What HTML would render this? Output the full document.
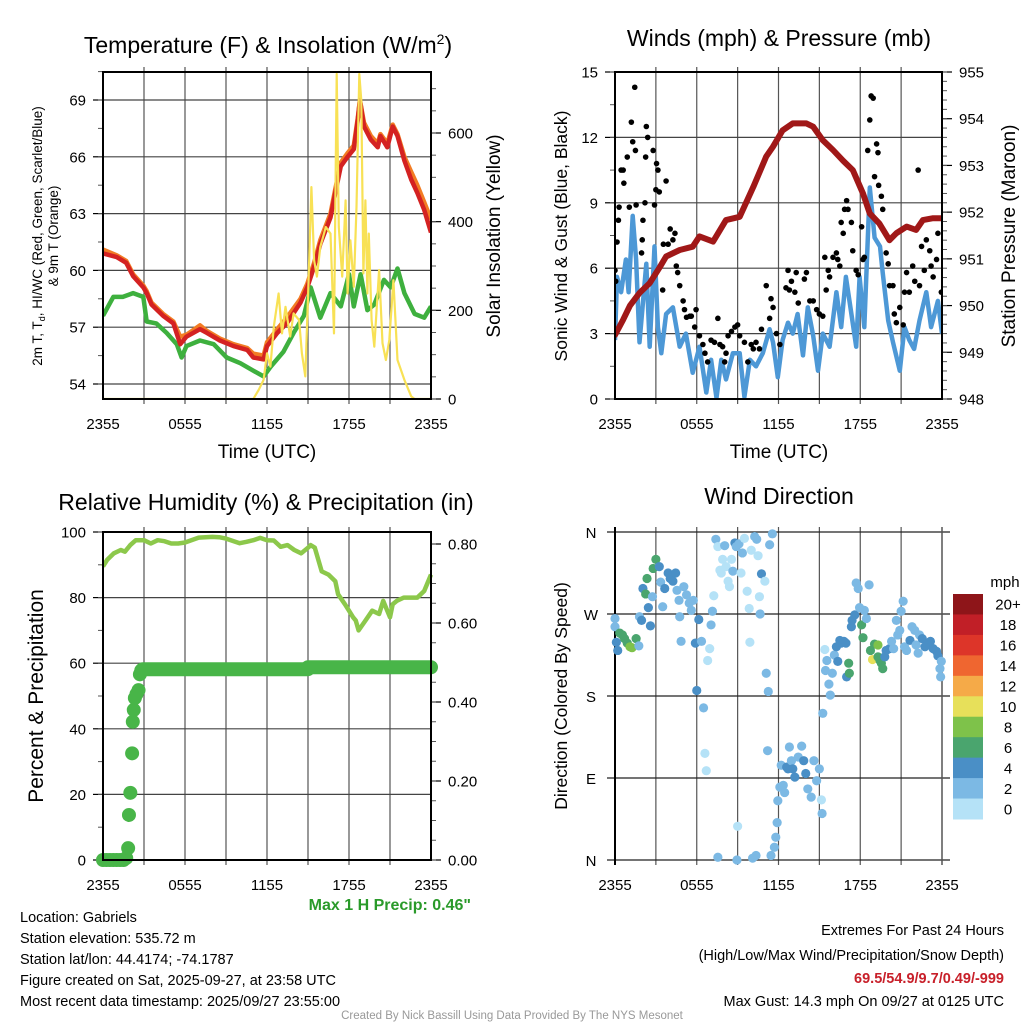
<!DOCTYPE html>
<html><head><meta charset="utf-8"><style>
html,body{margin:0;padding:0;background:#fff;}
svg{display:block;font-family:"Liberation Sans",sans-serif;}
</style></head><body>
<svg id="chart" width="1024" height="1024" viewBox="0 0 1024 1024" xmlns="http://www.w3.org/2000/svg">
<rect x="0" y="0" width="1024" height="1024" fill="#fff"/>
<text x="268" y="53" font-size="23" text-anchor="middle">Temperature (F) &amp; Insolation (W/m<tspan dy="-9" font-size="14">2</tspan><tspan dy="9">)</tspan></text>
<text x="779" y="46" font-size="23" text-anchor="middle">Winds (mph) &amp; Pressure (mb)</text>
<text x="266" y="510" font-size="23" text-anchor="middle">Relative Humidity (%) &amp; Precipitation (in)</text>
<text x="779" y="504" font-size="23" text-anchor="middle">Wind Direction</text>
<text transform="translate(42,236) rotate(-90)" font-size="13.5" text-anchor="middle">2m T, T<tspan dy="3" font-size="9">d</tspan><tspan dy="-3">, HI/WC (Red, Green, Scarlet/Blue)</tspan></text>
<text transform="translate(58,236) rotate(-90)" font-size="13.5" text-anchor="middle">&amp; 9m T (Orange)</text>
<text transform="translate(500,236) rotate(-90)" font-size="19" text-anchor="middle">Solar Insolation (Yellow)</text>
<text transform="translate(567,236) rotate(-90)" font-size="17.5" text-anchor="middle">Sonic Wind &amp; Gust (Blue, Black)</text>
<text transform="translate(1015,236) rotate(-90)" font-size="19" text-anchor="middle">Station Pressure (Maroon)</text>
<text transform="translate(43,696) rotate(-90)" font-size="21" text-anchor="middle">Percent &amp; Precipitation</text>
<text transform="translate(567,696) rotate(-90)" font-size="17.5" text-anchor="middle">Direction (Colored By Speed)</text>
<text x="267" y="458" font-size="19" text-anchor="middle">Time (UTC)</text>
<text x="779" y="458" font-size="19" text-anchor="middle">Time (UTC)</text>
<text x="471" y="910" font-size="16" font-weight="bold" fill="#2a9a2a" text-anchor="end">Max 1 H Precip: 0.46"</text>
<g font-size="14.5">
<text x="20" y="922">Location: Gabriels</text>
<text x="20" y="943">Station elevation: 535.72 m</text>
<text x="20" y="964">Station lat/lon: 44.4174; -74.1787</text>
<text x="20" y="985">Figure created on Sat, 2025-09-27, at 23:58 UTC</text>
<text x="20" y="1006">Most recent data timestamp: 2025/09/27 23:55:00</text>
</g>
<g font-size="14.5" text-anchor="end">
<text x="1004" y="935">Extremes For Past 24 Hours</text>
<text x="1004" y="960">(High/Low/Max Wind/Precipitation/Snow Depth)</text>
<text x="1004" y="983" fill="#c8202a" font-weight="bold">69.5/54.9/9.7/0.49/-999</text>
<text x="1004" y="1006">Max Gust: 14.3 mph On 09/27 at 0125 UTC</text>
</g>
<text x="512" y="1019" font-size="11.5" fill="#999" text-anchor="middle">Created By Nick Bassill Using Data Provided By The NYS Mesonet</text>
</svg>
<script>
// ---------- Data ----------
const timeTickLabels = ["2355","0555","1155","1755","2355"];
const tempTicks = [54,57,60,63,66,69];
const insolTicks = [0,200,400,600];
const windTicks = [0,3,6,9,12,15];
const presTicks = [948,949,950,951,952,953,954,955];
const rhTicks = [0,20,40,60,80,100];
const precipTicks = [0.00,0.20,0.40,0.60,0.80];
const dirTicks = [0,90,180,270,360];
const dirLabels = ["N","E","S","W","N"];

const tempHours = [0,1.0,1.7,2.2,2.95,3.2,3.55,4.4,5.15,5.65,6.1,7.1,7.6,8.55,9.55,10.55,11.0,11.75,12.0,12.75,13.45,14.45,14.95,15.45,15.9,16.65,17.0,17.4,17.9,18.35,18.65,18.8,19.1,19.6,20.1,20.3,20.8,21.2,21.55,22.05,22.55,23.0,23.5,24];
const tempRed = [60.9,60.7,60.4,59.7,59.1,58.8,58.2,57.6,57.2,56.1,56.5,56.9,56.7,56.3,56.0,55.8,55.4,55.3,56.0,56.7,57.2,58.3,59.1,60.2,61.4,62.8,64.1,65.5,66.0,66.4,68.0,69.0,67.6,66.9,66.5,67.1,66.5,67.6,67.1,65.8,64.8,64.1,63.2,62.0];
const tempOrange = [61.1,60.8,60.5,59.8,59.2,58.9,58.3,57.7,57.3,56.5,56.6,57.1,56.8,56.4,56.1,55.9,55.6,55.5,56.2,56.9,57.5,58.5,59.3,60.4,61.6,63.0,64.3,65.7,66.2,66.6,68.1,69.0,67.8,67.1,66.7,67.2,66.7,67.7,67.2,66.0,65.2,64.5,63.6,62.7];
const dewHours = [0,0.75,1.45,2.2,2.95,3.2,3.9,4.65,5.4,5.75,6.1,7.1,8.1,9.05,10.05,11.0,11.75,12.25,13.2,13.95,14.7,15.2,15.9,16.65,17.4,18.0,18.35,18.85,19.35,19.85,20.55,21.05,21.55,22.05,22.8,23.5,24];
const dewGreen = [57.6,58.6,58.6,58.8,58.6,57.3,57.2,56.7,56.1,55.4,56.0,56.3,56.1,55.4,55.1,54.7,54.4,54.9,55.7,56.7,57.6,59.1,57.5,58.8,58.1,59.8,58.1,59.8,57.9,58.2,59.5,59.1,60.1,58.8,57.7,57.5,58.1];
const solarHours = [0,11.0,11.4,11.75,12.0,12.25,12.5,12.85,13.1,13.35,13.7,13.95,14.35,14.55,14.8,15.05,15.25,15.45,15.65,15.9,16.3,16.65,16.9,17.1,17.25,17.5,17.75,17.9,18.1,18.35,18.55,18.75,18.9,19.05,19.2,19.35,19.45,19.65,19.85,20.2,20.45,20.7,20.95,21.25,21.55,22.05,22.55,22.8,24];
const solarValues = [0,0,21,43,103,73,163,238,148,208,141,193,178,103,51,276,478,313,276,343,388,373,148,733,388,276,448,238,358,253,433,733,673,283,448,238,373,178,118,291,126,88,133,268,88,43,6,0,0];

const presHours = [0,0.6,1.1,1.8,2.55,3.3,3.75,4.75,5.7,6.2,7.2,8.15,9.15,10.15,11.1,11.6,12.3,13.05,14.05,14.55,15.25,16.0,16.75,17.45,18.2,18.7,19.4,20.15,20.65,21.4,22.1,22.6,23.35,24];
const presValues = [949.37,949.7,950.0,950.27,950.48,950.83,951.05,951.19,951.26,951.48,951.37,951.83,951.9,952.54,953.19,953.4,953.75,953.9,953.9,953.83,953.54,953.33,953.1,952.9,952.4,951.97,951.76,951.4,951.55,951.69,951.62,951.83,951.87,951.87];
const windHours = [0,0.15,0.45,0.8,1.0,1.3,1.55,1.8,2.3,2.55,2.9,3.15,3.4,3.75,4.25,4.75,5.2,5.7,6.2,6.7,7.05,7.45,7.8,8.15,8.65,9.15,9.5,9.9,10.35,10.85,11.35,11.6,11.95,12.3,12.7,13.05,13.4,13.8,14.15,14.55,14.9,15.25,15.75,16.25,16.6,16.95,17.35,17.7,17.95,18.3,18.7,19.05,19.45,19.65,20.05,20.4,20.9,21.25,21.6,21.95,22.35,22.85,23.2,23.7,24];
const windValues = [2.7,5.6,4.9,6.4,4.9,8.4,6.4,2.6,6.2,2.4,7.0,3.3,2.1,3.9,4.2,2.4,3.0,1.2,2.4,0.3,1.8,0.05,1.8,0.9,2.1,2.1,0.1,1.8,1.5,2.1,3.2,2.6,1.0,2.7,3.5,3.0,3.9,2.0,4.2,2.9,1.3,3.0,2.4,4.9,3.3,5.6,3.9,2.4,5.6,3.3,9.7,7.4,7.0,5.8,3.6,2.6,1.3,3.3,2.7,2.3,3.6,4.9,3.3,4.5,3.0];
const gustHours = [0,0.05,0.15,0.25,0.3,0.45,0.6,0.65,0.9,1.05,1.2,1.3,1.45,1.5,1.55,1.95,2.0,2.05,2.2,2.25,2.3,2.4,2.8,2.9,3.0,3.05,3.15,3.25,3.5,3.55,3.75,3.9,4.05,4.25,4.4,4.5,4.6,4.75,5.0,5.1,5.25,5.5,5.6,5.85,5.95,6.2,6.45,6.6,6.8,7.05,7.3,7.55,7.7,7.9,8.05,8.15,8.3,8.55,8.8,9.0,9.15,9.5,9.75,10.0,10.15,10.35,10.6,10.75,11.1,11.35,11.45,11.6,11.85,12.1,12.55,12.7,12.8,12.95,13.2,13.3,13.45,13.9,14.05,14.3,14.55,14.8,15.0,15.25,15.4,15.5,15.65,15.75,16.0,16.25,16.35,16.5,16.6,16.75,16.85,17.0,17.1,17.35,17.45,17.7,17.85,18.1,18.2,18.3,18.55,18.7,18.8,18.95,19.05,19.2,19.3,19.35,19.55,19.65,19.9,20.05,20.15,20.4,20.5,20.65,20.9,21.15,21.25,21.4,21.6,21.85,22.0,22.25,22.35,22.5,22.7,22.85,23.1,23.2,23.35,23.6,23.7,23.95];
const gustValues = [5.9,5.4,7.2,8.2,8.8,10.5,10.5,9.9,11.1,8.8,12.7,11.8,14.3,11.4,8.9,6.7,7.3,8.2,9.0,11.1,12.5,12.0,11.4,8.9,9.6,10.8,10.5,9.5,5.0,7.1,10.0,7.1,7.8,7.3,7.6,6.1,5.8,5.2,4.5,4.1,3.75,3.8,3.8,3.3,4.1,2.9,2.5,2.1,1.7,2.7,2.6,3.7,2.5,2.4,1.7,2.1,2.9,3.1,3.3,3.4,2.9,2.6,1.7,2.5,2.3,2.6,2.3,3.2,5.2,3.7,4.6,4.2,3.0,2.5,5.1,5.9,5.0,5.4,4.9,5.8,4.4,5.5,5.8,4.5,4.5,4.1,3.9,3.8,6.5,5.0,5.9,5.6,6.5,6.7,6.4,6.1,8.1,7.6,8.7,9.1,8.7,8.1,6.8,5.9,5.7,7.9,6.4,6.5,11.4,12.8,13.9,13.8,10.2,11.7,11.3,9.8,9.3,8.7,6.7,6.2,5.2,5.2,3.9,3.5,4.2,3.4,4.9,5.8,4.9,6.1,5.4,10.5,5.2,7.0,5.9,7.3,6.8,6.1,5.6,6.4,7.6,4.9];

const rhHours = [0,0.3,0.8,1.3,1.6,2.0,2.4,2.8,3.0,3.5,4.0,4.5,5.0,5.5,6.0,7.0,8.0,8.5,9.0,10.0,10.5,11.0,11.5,12.0,12.5,13.0,13.5,14.0,14.5,15.0,15.2,15.5,16.0,16.5,17.0,17.2,17.7,18.0,18.3,18.5,18.7,19.2,19.7,20.2,20.5,21.0,21.2,21.5,22.0,22.5,23.0,23.5,24];
const rhValues = [89.5,91.5,93.5,94.5,94,96,97.5,97.5,97.5,96.5,97.5,97.2,96.5,96.5,96.8,98.3,98.5,98.4,98.0,96.6,97.0,97.5,98.2,97.5,97.4,95.5,96.0,94.5,93.5,95.2,96.0,95.2,88,87,85,81,78,76,74,73,70,73,76,75,79,74,78,79,80,80,80,82,87];
const precipHours = [0,0.25,0.5,0.75,1.0,1.25,1.5,1.7,1.84,1.9,2.0,2.13,2.18,2.25,2.33,2.45,2.6,2.7,2.8];
const precipValues = [0,0,0,0,0,0,0,0.005,0.03,0.114,0.17,0.27,0.35,0.38,0.41,0.42,0.43,0.47,0.48];
const precipFlatStart = [2.9,15.0];
const precipFlatEnd = [15.0,24];
const precipFlatValue = [0.483,0.488];

const dirHours = [0,0,0.1,0.2,0.35,0.55,0.7,0.9,1.1,1.25,1.55,1.75,1.8,1.95,2.05,2.25,2.35,2.45,2.6,2.75,2.8,3.0,3.25,3.35,3.5,3.65,3.9,4.05,4.25,4.45,4.55,4.7,4.75,4.85,5.05,5.25,5.45,5.6,5.75,5.9,6.15,6.35,6.0,6.5,6.6,6.7,6.8,6.95,7.15,7.05,7.25,7.4,7.55,7.7,7.8,7.9,8.05,8.15,8.3,8.4,8.55,8.65,8.8,8.9,9.1,9.25,9.35,9.5,9.7,9.85,9.9,10.0,10.25,10.4,10.5,10.6,10.75,10.65,11.0,11.1,11.25,11.35,11.55,7.55,9.0,8.95,10.1,10.35,11.2,11.45,11.7,11.8,11.9,11.95,12.1,12.2,12.35,12.45,12.6,12.7,12.8,12.95,13.05,13.2,13.45,13.7,13.85,14.0,14.15,14.4,14.6,14.8,15.0,15.15,15.2,15.25,15.4,15.45,15.55,15.7,15.8,15.95,16.1,16.25,16.35,16.5,16.6,16.8,16.95,17.0,17.15,17.2,17.35,17.4,17.6,17.7,17.85,17.95,18.1,18.2,18.3,18.45,18.65,18.75,18.9,19.05,19.3,19.3,19.45,19.55,19.65,19.8,19.9,20.15,20.3,20.45,20.65,20.75,20.9,21.0,21.15,21.25,21.4,21.65,21.8,22.0,22.1,22.25,22.35,22.55,22.75,23.0,23.15,23.35,23.6,23.7,23.85,23.95,23.9];
const dirValues = [265,256,239,230,249,247,243,238,234,233,243,235,267,263,298,292,309,277,257,289,320,330,322,305,278,298,315,309,306,315,296,285,267,240,300,291,282,274,285,238,264,240,186,167,117,98,219,232,273,258,290,352,344,318,315,330,345,322,306,300,330,317,348,344,347,315,337,353,295,276,239,340,355,352,334,289,314,270,306,205,185,346,358,3,37,0,2,5,120,5,14,25,41,65,80,104,82,74,102,100,124,109,100,91,113,125,109,95,78,69,109,87,100,66,51,161,231,208,219,193,181,205,225,234,218,241,238,240,238,201,216,205,256,263,269,304,298,277,258,244,274,265,302,230,220,237,236,223,219,216,210,223,230,232,240,232,263,247,252,273,284,234,230,241,256,252,236,227,247,243,234,238,240,232,229,224,210,218,201];
const dirSpeeds = [3,3,4,4,6,6,6,6,8,8,6,2,2,4,4,6,6,4,4,2,6,6,4,2,2,4,4,4,4,4,2,2,2,2,2,2,2,2,2,4,4,2,4,2,1,1,1,1,2,2,1,2,0,0,0,1,2,1,1,1,0,2,4,2,2,1,2,0,1,1,1,0,2,2,1,1,4,2,1,2,2,2,2,2,1,2,2,2,2,2,2,2,2,2,2,2,2,2,4,4,2,2,4,5,2,2,4,5,2,2,2,2,2,1,2,2,1,2,2,2,2,2,2,4,4,4,4,4,4,4,6,6,4,4,4,2,2,2,6,6,2,2,2,6,10,6,8,6,6,6,6,4,4,4,2,2,2,2,2,2,2,2,2,4,2,2,2,2,2,4,4,4,4,4,4,4,2,2,2];
const speedBins = ["0","2","4","6","8","10","12","14","16","18","20+"];
const speedColors = ["#b5e2f7","#7cb9e4","#4a8fc6","#4aa56e","#7ec24a","#e7e05a","#f5aa48","#ef6630","#dd3529","#c11f27","#8e1519"];

// ---------- Helpers ----------
const NS = "http://www.w3.org/2000/svg";
const svg = document.getElementById('chart');
function mk(tag, attrs, name, parent) {
  const el = document.createElementNS(NS, tag);
  for (const k in attrs) el.setAttribute(k, attrs[k]);
  
  
  (parent || svg).appendChild(el);
  return el;
}
function txt(str, attrs, name, parent) { const t = mk('text', attrs, name, parent); t.textContent = str; return t; }
function linScale(d0, d1, r0, r1) { return v => r0 + (v - d0) * (r1 - r0) / (d1 - d0); }
function pathFrom(xs, ys, sx, sy) { return xs.map((h, i) => (i ? 'L' : 'M') + sx(h).toFixed(1) + ',' + sy(ys[i]).toFixed(1)).join(''); }

function panel(id, X0, X1, Y0, Y1, prefix) {
  const g = mk('g', {}, prefix + '-panel');
  const clip = mk('clipPath', {id: id}, prefix + '-clip', g);
  mk('rect', {x: X0, y: Y0, width: X1 - X0, height: Y1 - Y0}, prefix + '-clip-rect', clip);
  const sx = linScale(0, 24, X0, X1);
  for (let h = 3; h < 24; h += 3) {
    const vl = mk('line', {x1: sx(h), x2: sx(h), y1: Y0 - 5, y2: Y1 + 5, stroke: '#555', 'stroke-width': 1.2}, prefix + '-vgrid', g);
  }
  timeTickLabels.forEach((lab, i) => {
    const t = txt(lab, {x: sx(i * 6), y: Y1 + 30, 'font-size': 15, 'text-anchor': 'middle'}, prefix + '-x-tick-label', g);
  });
  return {g, sx};
}
function yAxis(g, ticks, sc, X, side, fmt, prefix, minorStep, lo, hi, grid, X0, X1) {
  ticks.forEach(v => {
    const y = sc(v);
    if (grid) {
      const gl = mk('line', {x1: X0, x2: X1, y1: y, y2: y, stroke: '#444', 'stroke-width': 1.2}, prefix + '-hgrid', g);
    }
    const tk = mk('line', {x1: X, x2: X + side * 10, y1: y, y2: y, stroke: '#000', 'stroke-width': 1.2}, prefix + '-tick', g);
    const t = txt(fmt(v), {x: X + side * 17, y: y + 5.5, 'font-size': 15, 'text-anchor': side < 0 ? 'end' : 'start'}, prefix + '-tick-label', g);
  });
  for (let v = lo; v <= hi + 1e-9; v += minorStep) {
    const y = sc(v);
    const mt = mk('line', {x1: X, x2: X + side * 5, y1: y, y2: y, stroke: '#555', 'stroke-width': 1}, prefix + '-minor-tick', g);
  }
}
function frame(g, X0, X1, Y0, Y1, prefix) {
  mk('rect', {x: X0, y: Y0, width: X1 - X0, height: Y1 - Y0, fill: 'none', stroke: '#000', 'stroke-width': 2}, prefix + '-frame', g);
}

// ---------- Panel 1: Temperature ----------
{
  const X0 = 103, X1 = 431, Y0 = 72, Y1 = 399;
  const {g, sx} = panel('c1', X0, X1, Y0, Y1, 'temp');
  const yT = linScale(54, 69, 384, 100);
  const yI = linScale(0, 600, 399, 133);
  yAxis(g, tempTicks, yT, X0, -1, v => String(v), 'temp-y', 1.5, 54, 70.5, true, X0, X1);
  yAxis(g, insolTicks, yI, X1, 1, v => String(v), 'insol-y', 50, 0, 700, false);
  const d = mk('g', {'clip-path': 'url(#c1)'}, 'temp-series', g);
  mk('path', {d: pathFrom(dewHours, dewGreen, sx, yT), fill: 'none', stroke: '#3eb03e', 'stroke-width': 4.5, 'stroke-linejoin': 'round'}, 'dewpoint-line', d);
  mk('path', {d: pathFrom(tempHours, tempOrange, sx, yT), fill: 'none', stroke: '#f27c24', 'stroke-width': 4.5, 'stroke-linejoin': 'round'}, 'temp-9m-line', d);
  mk('path', {d: pathFrom(tempHours, tempRed, sx, yT), fill: 'none', stroke: '#d42222', 'stroke-width': 4.5, 'stroke-linejoin': 'round'}, 'temp-2m-line', d);
  mk('path', {d: pathFrom(solarHours, solarValues, sx, yI), fill: 'none', stroke: '#f8e155', 'stroke-width': 2.2, 'stroke-linejoin': 'round'}, 'insolation-line', d);
  frame(g, X0, X1, Y0, Y1, 'temp');
}

// ---------- Panel 2: Winds ----------
{
  const X0 = 615, X1 = 942, Y0 = 72, Y1 = 399;
  const {g, sx} = panel('c2', X0, X1, Y0, Y1, 'wind');
  const yW = linScale(0, 15, 399, 72);
  const yP = linScale(948, 955, 399, 72);
  yAxis(g, windTicks, yW, X0, -1, v => String(v), 'wind-y', 1.5, 0, 15, true, X0, X1);
  yAxis(g, presTicks, yP, X1, 1, v => String(v), 'pres-y', 0.2, 948, 955, false);
  const d = mk('g', {'clip-path': 'url(#c2)'}, 'wind-series', g);
  mk('path', {d: pathFrom(windHours, windValues, sx, yW), fill: 'none', stroke: '#4d98d6', 'stroke-width': 4.5, 'stroke-linejoin': 'round'}, 'sonic-wind-line', d);
  gustHours.forEach((h, i) => {
    const c = mk('circle', {cx: sx(h), cy: yW(gustValues[i]), r: 2.8, fill: '#000'}, 'gust-point', d);
  });
  mk('path', {d: pathFrom(presHours, presValues, sx, yP), fill: 'none', stroke: '#a01818', 'stroke-width': 6, 'stroke-linejoin': 'round', 'stroke-linecap': 'round'}, 'pressure-line', d);
  frame(g, X0, X1, Y0, Y1, 'wind');
}

// ---------- Panel 3: RH & Precip ----------
{
  const X0 = 103, X1 = 431, Y0 = 532, Y1 = 860;
  const {g, sx} = panel('c3', X0, X1, Y0, Y1, 'rh');
  const yR = linScale(0, 100, 860, 532);
  const yPr = linScale(0, 0.8, 860, 544);
  yAxis(g, rhTicks, yR, X0, -1, v => String(v), 'rh-y', 10, 0, 100, true, X0, X1);
  yAxis(g, precipTicks, yPr, X1, 1, v => v.toFixed(2), 'precip-y', 0.05, 0, 0.8, false);
  const d = mk('g', {}, 'rh-series', g);
  mk('path', {d: pathFrom(rhHours, rhValues, sx, yR), fill: 'none', stroke: '#8cc84b', 'stroke-width': 4.5, 'stroke-linejoin': 'round'}, 'rh-line', d);
  precipFlatStart.forEach((s, i) => {
    const b = mk('line', {x1: sx(s), x2: sx(precipFlatEnd[i]), y1: yPr(precipFlatValue[i]), y2: yPr(precipFlatValue[i]), stroke: '#48b548', 'stroke-width': 14, 'stroke-linecap': 'round'}, 'precip-accum-band', d);
  });
  precipHours.forEach((h, i) => {
    const c = mk('circle', {cx: sx(h), cy: yPr(precipValues[i]), r: 7, fill: '#48b548'}, 'precip-point', d);
  });
  frame(g, X0, X1, Y0, Y1, 'rh');
}

// ---------- Panel 4: Wind direction ----------
{
  const X0 = 615, X1 = 942, Y0 = 532, Y1 = 860;
  const {g, sx} = panel('c4', X0, X1, Y0, Y1, 'dir');
  const yD = linScale(0, 360, 860, 532);
  dirTicks.forEach((v, i) => {
    const y = yD(v);
    const gl = mk('line', {x1: X0 - 8, x2: X1 + 8, y1: y, y2: y, stroke: '#222', 'stroke-width': 1.2}, 'dir-hgrid', g);
    const t = txt(dirLabels[i], {x: 591, y: y + 6, 'font-size': 15, 'text-anchor': 'middle'}, 'dir-tick-label', g);
  });
  mk('line', {x1: X0, x2: X0, y1: Y0 - 5, y2: Y1 + 5, stroke: '#000', 'stroke-width': 2}, 'dir-left-axis', g);
  mk('line', {x1: X1, x2: X1, y1: Y0 - 5, y2: Y1 + 5, stroke: '#555', 'stroke-width': 1.5}, 'dir-right-axis', g);
  const d = mk('g', {}, 'dir-series', g);
  dirHours.forEach((h, i) => {
    const bin = Math.min(10, Math.floor(dirSpeeds[i] / 2));
    const c = mk('circle', {cx: sx(h), cy: yD(dirValues[i]), r: 4.6, fill: speedColors[bin]}, 'dir-point', d);
  });
  // colorbar
  const cb = mk('g', {}, 'speed-colorbar', svg);
  txt('mph', {x: 1005, y: 587, 'font-size': 15, 'text-anchor': 'middle'}, 'colorbar-title', cb);
  const cbTop = 594, cbH = 225 / 11;
  speedBins.forEach((lab, i) => {
    const k = 10 - i;
    const r = mk('rect', {x: 953, y: cbTop + i * cbH, width: 30, height: cbH + 0.5, fill: speedColors[k]}, 'colorbar-swatch', cb);
    const t = txt(speedBins[k], {x: 1008, y: cbTop + i * cbH + cbH / 2 + 5.5, 'font-size': 15, 'text-anchor': 'middle'}, 'colorbar-label', cb);
  });
}
</script>
</body></html>
